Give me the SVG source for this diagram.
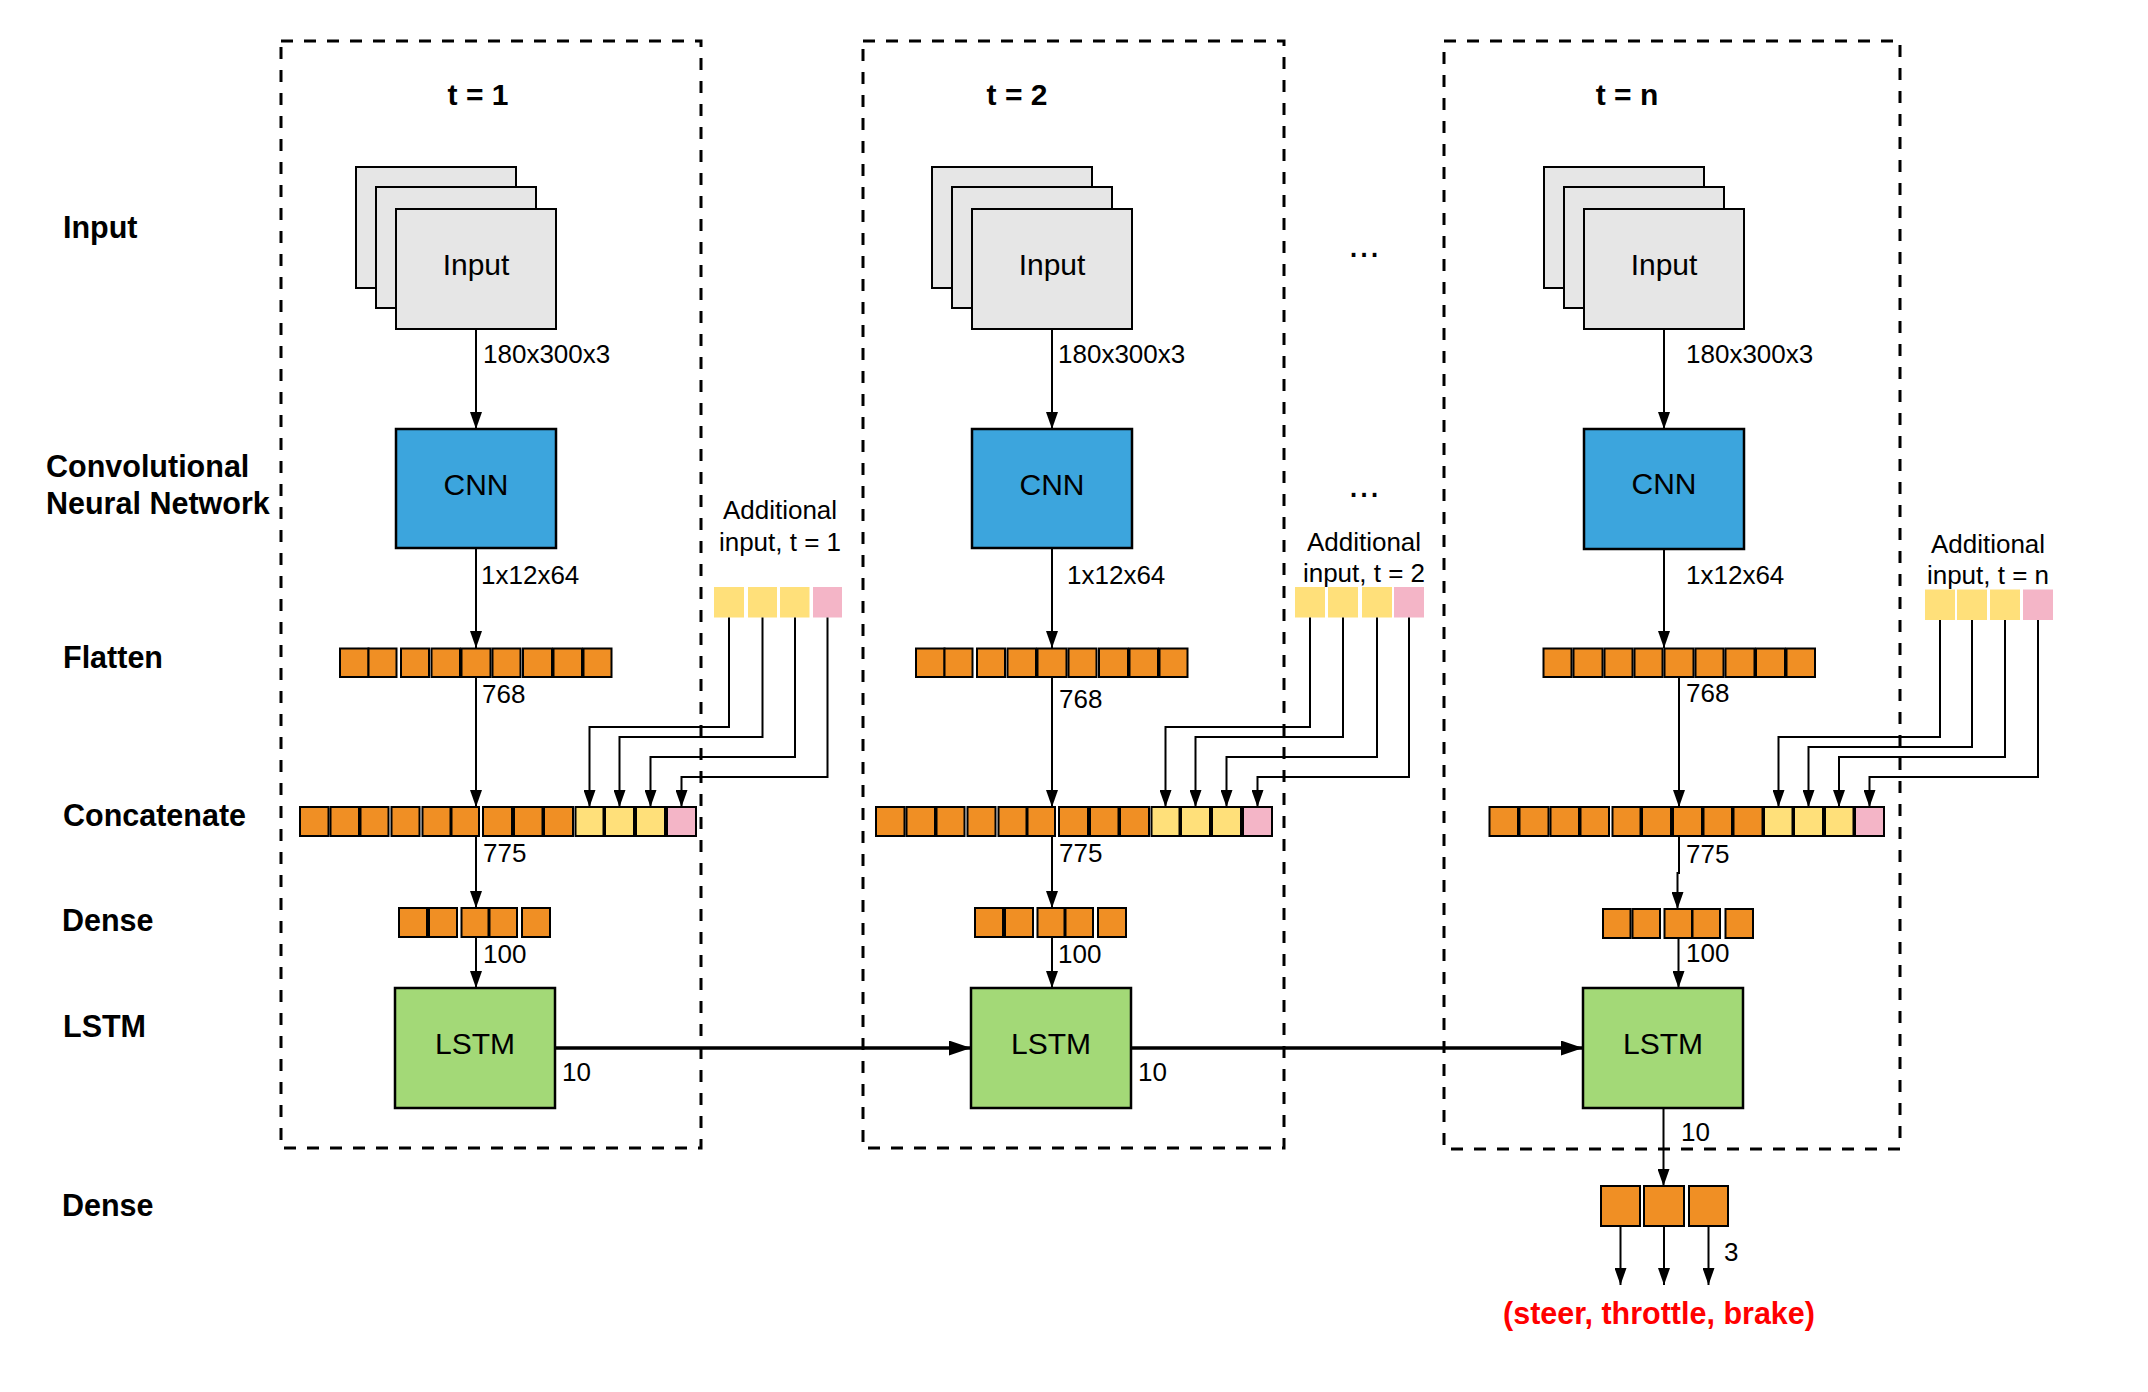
<svg xmlns="http://www.w3.org/2000/svg" width="2148" height="1392" viewBox="0 0 2148 1392">
<defs>
<marker id="ah" markerUnits="userSpaceOnUse" markerWidth="18" markerHeight="12" refX="17" refY="6" orient="auto"><path d="M0,0 L17,6 L0,12 z" fill="#000"/></marker>
<marker id="ahb" markerUnits="userSpaceOnUse" markerWidth="23" markerHeight="16" refX="22" refY="7.5" orient="auto"><path d="M0,0 L22,7.5 L0,15 z" fill="#000"/></marker>
</defs>
<style>
.frame{fill:none;stroke:#000;stroke-width:3;stroke-dasharray:12 11}
.img{fill:#E6E6E6;stroke:#000;stroke-width:2}
.cnn{fill:#3CA5DD;stroke:#000;stroke-width:2.5}
.lstm{fill:#A3D977;stroke:#000;stroke-width:2.5}
.o{fill:#F08F24;stroke:#000;stroke-width:2}
.y{fill:#FFE07A;stroke:#000;stroke-width:2}
.p{fill:#F4B5C7;stroke:#000;stroke-width:2}
.ya{fill:#FFE07A}
.pa{fill:#F4B5C7}
.ln{fill:none;stroke:#000;stroke-width:2;marker-end:url(#ah)}
.lnb{fill:none;stroke:#000;stroke-width:3.5;marker-end:url(#ahb)}
text{font-family:"Liberation Sans",Arial,sans-serif;fill:#000}
.lbl{font-size:26px}
.box{font-size:30px;text-anchor:middle}
.hd{font-size:30.5px;font-weight:bold}
.tt{font-size:30px;font-weight:bold;text-anchor:middle}
.ai{font-size:26px;text-anchor:middle}
.dots{font-size:38px;text-anchor:middle}
.out{font-size:30.5px;font-weight:bold;fill:#FF0000;text-anchor:middle}
</style>
<rect width="2148" height="1392" fill="#fff"/>

<g id="row-labels">
<text class="hd" x="63" y="238">Input</text>
<text class="hd" x="46" y="477">Convolutional</text>
<text class="hd" x="46" y="514">Neural Network</text>
<text class="hd" x="63" y="668">Flatten</text>
<text class="hd" x="63" y="826">Concatenate</text>
<text class="hd" x="62" y="931">Dense</text>
<text class="hd" x="63" y="1037">LSTM</text>
<text class="hd" x="62" y="1216">Dense</text>
</g>

<g id="frame-t1"><rect class="frame" x="281" y="41" width="420" height="1107"/><text class="tt" x="478" y="105">t = 1</text></g>
<g id="frame-t2"><rect class="frame" x="863" y="41" width="421" height="1107"/><text class="tt" x="1017" y="105">t = 2</text></g>
<g id="frame-tn"><rect class="frame" x="1444" y="41" width="456" height="1108"/><text class="tt" x="1627" y="105">t = n</text></g>

<g id="ellipses">
<text class="dots" x="1364" y="257">...</text>
<text class="dots" x="1364" y="497">...</text>
</g>

<!-- column 1 -->
<g id="input-1"><rect class="img" x="356" y="167" width="160" height="121"/><rect class="img" x="376" y="187" width="160" height="121"/><rect class="img" x="396" y="209" width="160" height="120"/><text class="box" x="476" y="275">Input</text></g>
<g id="cnn-1"><rect class="cnn" x="396" y="429" width="160" height="119"/><text class="box" x="476" y="495">CNN</text></g>
<g id="flatten-1">
<rect class="o" x="340" y="648.5" width="28.5" height="28.5"/><rect class="o" x="368.5" y="648.5" width="28" height="28.5"/><rect class="o" x="401" y="648.5" width="28" height="28.5"/><rect class="o" x="431.5" y="648.5" width="28.5" height="28.5"/><rect class="o" x="461.5" y="648.5" width="29" height="28.5"/><rect class="o" x="492.5" y="648.5" width="28" height="28.5"/><rect class="o" x="523" y="648.5" width="29" height="28.5"/><rect class="o" x="553.5" y="648.5" width="28.5" height="28.5"/><rect class="o" x="583.5" y="648.5" width="28" height="28.5"/>
</g>
<g id="additional-1">
<text class="ai" x="780" y="519">Additional</text><text class="ai" x="780" y="551">input, t = 1</text>
<rect class="ya" x="714" y="587" width="30" height="30.5"/><rect class="ya" x="748" y="587" width="29" height="30.5"/><rect class="ya" x="780" y="587" width="29.5" height="30.5"/><rect class="pa" x="813" y="587" width="29" height="30.5"/>
</g>
<g id="concat-1">
<rect class="o" x="300" y="807" width="28.5" height="29"/><rect class="o" x="330.5" y="807" width="28.5" height="29"/><rect class="o" x="360.5" y="807" width="28" height="29"/><rect class="o" x="391.5" y="807" width="28" height="29"/><rect class="o" x="422.5" y="807" width="28" height="29"/><rect class="o" x="451.5" y="807" width="27.5" height="29"/><rect class="o" x="483" y="807" width="29" height="29"/><rect class="o" x="514" y="807" width="28.5" height="29"/><rect class="o" x="544" y="807" width="29" height="29"/><rect class="y" x="575.5" y="807" width="28" height="29"/><rect class="y" x="605" y="807" width="29" height="29"/><rect class="y" x="636" y="807" width="29" height="29"/><rect class="p" x="667" y="807" width="29" height="29"/>
</g>
<g id="dense-1">
<rect class="o" x="399" y="908" width="28" height="29"/><rect class="o" x="429" y="908" width="28" height="29"/><rect class="o" x="461.5" y="908" width="27" height="29"/><rect class="o" x="489.5" y="908" width="27.5" height="29"/><rect class="o" x="522" y="908" width="28" height="29"/>
</g>
<g id="lstm-1"><rect class="lstm" x="395" y="988" width="160" height="120"/><text class="box" x="475" y="1054">LSTM</text></g>

<!-- column 2 -->
<g id="input-2"><rect class="img" x="932" y="167" width="160" height="121"/><rect class="img" x="952" y="187" width="160" height="121"/><rect class="img" x="972" y="209" width="160" height="120"/><text class="box" x="1052" y="275">Input</text></g>
<g id="cnn-2"><rect class="cnn" x="972" y="429" width="160" height="119"/><text class="box" x="1052" y="495">CNN</text></g>
<g id="flatten-2">
<rect class="o" x="916" y="648.5" width="28.5" height="28.5"/><rect class="o" x="944.5" y="648.5" width="28" height="28.5"/><rect class="o" x="977" y="648.5" width="28" height="28.5"/><rect class="o" x="1007.5" y="648.5" width="28.5" height="28.5"/><rect class="o" x="1037.5" y="648.5" width="29" height="28.5"/><rect class="o" x="1068.5" y="648.5" width="28" height="28.5"/><rect class="o" x="1099" y="648.5" width="29" height="28.5"/><rect class="o" x="1129.5" y="648.5" width="28.5" height="28.5"/><rect class="o" x="1159.5" y="648.5" width="28" height="28.5"/>
</g>
<g id="additional-2">
<text class="ai" x="1364" y="551">Additional</text><text class="ai" x="1364" y="582">input, t = 2</text>
<rect class="ya" x="1295" y="587" width="30" height="30.5"/><rect class="ya" x="1328" y="587" width="30" height="30.5"/><rect class="ya" x="1362" y="587" width="30" height="30.5"/><rect class="pa" x="1394" y="587" width="30" height="30.5"/>
</g>
<g id="concat-2">
<rect class="o" x="876" y="807" width="28.5" height="29"/><rect class="o" x="906.5" y="807" width="28.5" height="29"/><rect class="o" x="936.5" y="807" width="28" height="29"/><rect class="o" x="967.5" y="807" width="28" height="29"/><rect class="o" x="998.5" y="807" width="28" height="29"/><rect class="o" x="1027.5" y="807" width="27.5" height="29"/><rect class="o" x="1059" y="807" width="29" height="29"/><rect class="o" x="1090" y="807" width="28.5" height="29"/><rect class="o" x="1120" y="807" width="29" height="29"/><rect class="y" x="1151.5" y="807" width="28" height="29"/><rect class="y" x="1181" y="807" width="29" height="29"/><rect class="y" x="1212" y="807" width="29" height="29"/><rect class="p" x="1243" y="807" width="29" height="29"/>
</g>
<g id="dense-2">
<rect class="o" x="975" y="908" width="28" height="29"/><rect class="o" x="1005" y="908" width="28" height="29"/><rect class="o" x="1037.5" y="908" width="27" height="29"/><rect class="o" x="1065.5" y="908" width="27.5" height="29"/><rect class="o" x="1098" y="908" width="28" height="29"/>
</g>
<g id="lstm-2"><rect class="lstm" x="971" y="988" width="160" height="120"/><text class="box" x="1051" y="1054">LSTM</text></g>

<!-- column n -->
<g id="input-n"><rect class="img" x="1544" y="167" width="160" height="121"/><rect class="img" x="1564" y="187" width="160" height="121"/><rect class="img" x="1584" y="209" width="160" height="120"/><text class="box" x="1664" y="275">Input</text></g>
<g id="cnn-n"><rect class="cnn" x="1584" y="429" width="160" height="120"/><text class="box" x="1664" y="494">CNN</text></g>
<g id="flatten-n">
<rect class="o" x="1543.5" y="648.5" width="28" height="28.5"/><rect class="o" x="1573.5" y="648.5" width="29" height="28.5"/><rect class="o" x="1604.5" y="648.5" width="28" height="28.5"/><rect class="o" x="1634.5" y="648.5" width="28" height="28.5"/><rect class="o" x="1664.5" y="648.5" width="29" height="28.5"/><rect class="o" x="1695.5" y="648.5" width="28" height="28.5"/><rect class="o" x="1725.5" y="648.5" width="29" height="28.5"/><rect class="o" x="1756" y="648.5" width="29" height="28.5"/><rect class="o" x="1786.5" y="648.5" width="28.5" height="28.5"/>
</g>
<g id="additional-n">
<text class="ai" x="1988" y="553">Additional</text><text class="ai" x="1988" y="584">input, t = n</text>
<rect class="ya" x="1925" y="589.5" width="30" height="30.5"/><rect class="ya" x="1957" y="589.5" width="30" height="30.5"/><rect class="ya" x="1990" y="589.5" width="30" height="30.5"/><rect class="pa" x="2023" y="589.5" width="30" height="30.5"/>
</g>
<g id="concat-n">
<rect class="o" x="1489.5" y="807" width="28.5" height="29"/><rect class="o" x="1519.5" y="807" width="29" height="29"/><rect class="o" x="1550.5" y="807" width="28.5" height="29"/><rect class="o" x="1580.5" y="807" width="28.5" height="29"/><rect class="o" x="1612.5" y="807" width="28" height="29"/><rect class="o" x="1642" y="807" width="29" height="29"/><rect class="o" x="1673" y="807" width="29" height="29"/><rect class="o" x="1703.5" y="807" width="28.5" height="29"/><rect class="o" x="1733.5" y="807" width="29" height="29"/><rect class="y" x="1764" y="807" width="28.5" height="29"/><rect class="y" x="1794" y="807" width="29" height="29"/><rect class="y" x="1825" y="807" width="28.5" height="29"/><rect class="p" x="1855" y="807" width="29" height="29"/>
</g>
<g id="dense-n">
<rect class="o" x="1603" y="909" width="27.5" height="29"/><rect class="o" x="1632.5" y="909" width="27.5" height="29"/><rect class="o" x="1664.5" y="909" width="27.5" height="29"/><rect class="o" x="1692.5" y="909" width="27.5" height="29"/><rect class="o" x="1725.5" y="909" width="27.5" height="29"/>
</g>
<g id="lstm-n"><rect class="lstm" x="1583" y="988" width="160" height="120"/><text class="box" x="1663" y="1054">LSTM</text></g>
<g id="dense-out">
<rect class="o" x="1601" y="1186" width="39" height="40"/><rect class="o" x="1644" y="1186" width="40" height="40"/><rect class="o" x="1689" y="1186" width="39" height="40"/>
</g>
<g id="output"><text class="out" x="1659" y="1324">(steer, throttle, brake)</text></g>

<g id="connectors">
<path class="ln" d="M476,329 V429"/>
<path class="ln" d="M476,548 V648"/>
<path class="ln" d="M476,677 V807"/>
<path class="ln" d="M476,836 V908"/>
<path class="ln" d="M476,937 V988"/>
<path class="ln" d="M729,617.5 V727 H589.5 V807"/>
<path class="ln" d="M762.5,617.5 V737 H619.5 V807"/>
<path class="ln" d="M795,617.5 V757 H650.5 V807"/>
<path class="ln" d="M827.5,617.5 V777 H681.5 V807"/>

<path class="ln" d="M1052,329 V429"/>
<path class="ln" d="M1052,548 V648"/>
<path class="ln" d="M1052,677 V807"/>
<path class="ln" d="M1052,836 V908"/>
<path class="ln" d="M1052,937 V988"/>
<path class="ln" d="M1310,617.5 V727 H1165.5 V807"/>
<path class="ln" d="M1343,617.5 V737 H1195.5 V807"/>
<path class="ln" d="M1377,617.5 V757 H1226.5 V807"/>
<path class="ln" d="M1409,617.5 V777 H1257.5 V807"/>

<path class="ln" d="M1664,329 V429"/>
<path class="ln" d="M1664,549 V648"/>
<path class="ln" d="M1679,677 V807"/>
<path class="ln" d="M1679,836 V873 H1677.5 V909"/>
<path class="ln" d="M1678.5,938 V988"/>
<path class="ln" d="M1940,620 V737 H1778.5 V807"/>
<path class="ln" d="M1972,620 V747 H1808.5 V807"/>
<path class="ln" d="M2005,620 V757 H1839 V807"/>
<path class="ln" d="M2038,620 V777 H1869.5 V807"/>
<path class="ln" d="M1663.5,1108 V1186"/>
<path class="ln" d="M1620.5,1226 V1285"/>
<path class="ln" d="M1664,1226 V1285"/>
<path class="ln" d="M1708.5,1226 V1285"/>

<path class="lnb" d="M555,1048 H971"/>
<path class="lnb" d="M1131,1048 H1583"/>

<text class="lbl" x="483" y="363">180x300x3</text>
<text class="lbl" x="481" y="584">1x12x64</text>
<text class="lbl" x="482" y="703">768</text>
<text class="lbl" x="483" y="862">775</text>
<text class="lbl" x="483" y="963">100</text>
<text class="lbl" x="562" y="1081">10</text>

<text class="lbl" x="1058" y="363">180x300x3</text>
<text class="lbl" x="1067" y="584">1x12x64</text>
<text class="lbl" x="1059" y="708">768</text>
<text class="lbl" x="1059" y="862">775</text>
<text class="lbl" x="1058" y="963">100</text>
<text class="lbl" x="1138" y="1081">10</text>

<text class="lbl" x="1686" y="363">180x300x3</text>
<text class="lbl" x="1686" y="584">1x12x64</text>
<text class="lbl" x="1686" y="702">768</text>
<text class="lbl" x="1686" y="863">775</text>
<text class="lbl" x="1686" y="962">100</text>
<text class="lbl" x="1681" y="1141">10</text>
<text class="lbl" x="1724" y="1261">3</text>
</g>
</svg>
